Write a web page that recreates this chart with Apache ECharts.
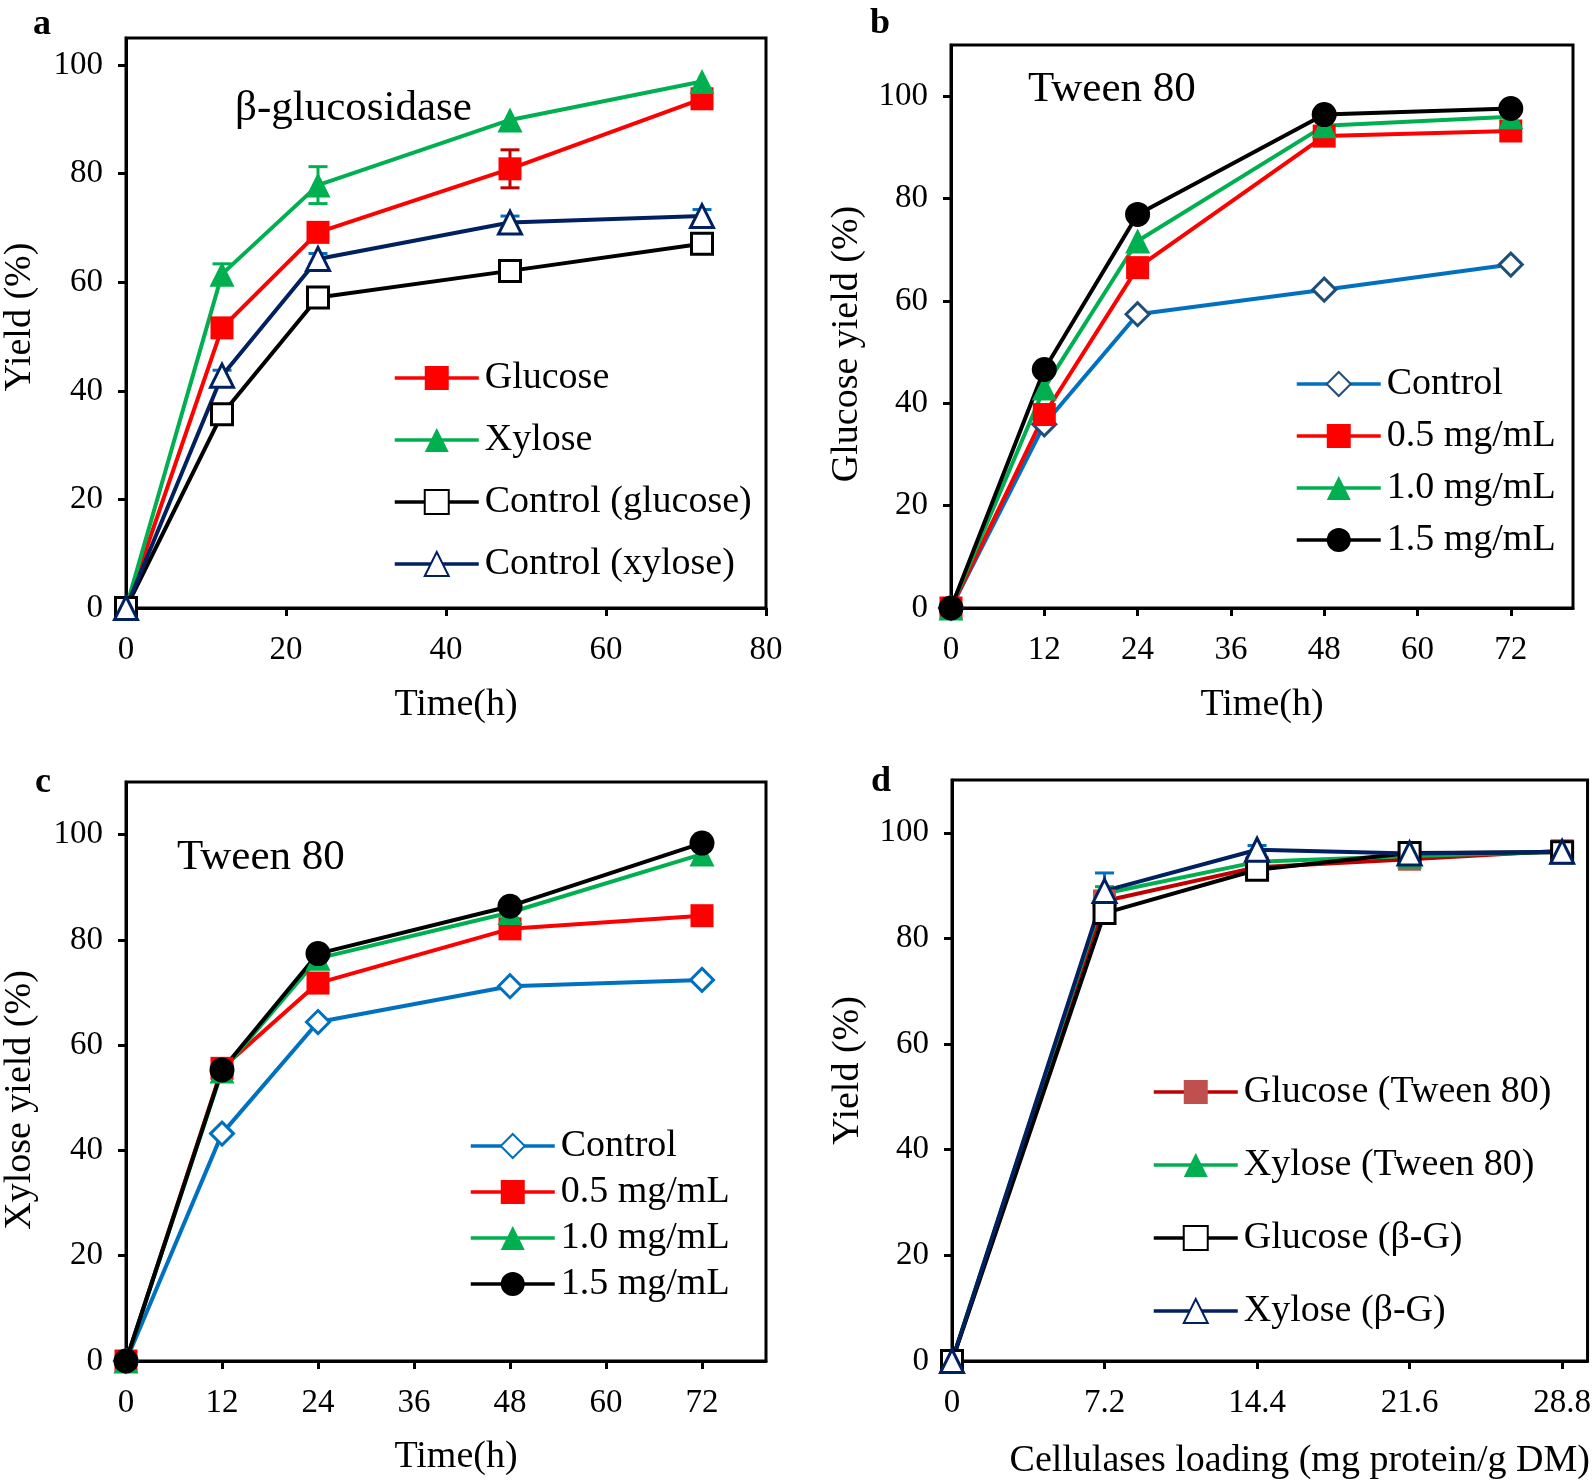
<!DOCTYPE html>
<html><head><meta charset="utf-8">
<script src="https://cdn.jsdelivr.net/npm/echarts@6/dist/echarts.min.js"></script>
<style>html,body{margin:0;padding:0;background:#fff}#chart{width:1594px;height:1482px}</style>
</head><body><div id="chart"></div>
<script>
// ---------- data ----------
const timeH = [0, 12, 24, 48, 72];
const loading = [0, 7.2, 14.4, 21.6, 28.8];

// panel a (β-glucosidase)
const aGlucose = [0, 51.6, 69.2, 80.9, 93.8];
const aXylose = [0, 61.5, 77.9, 89.9, 97.0];
const aCtrlGlucose = [0, 35.7, 57.2, 62.1, 67.1];
const aCtrlXylose = [0, 42.8, 64.3, 71.0, 72.2];
const aGlucoseErr = [0, 0, 0, 3.5, 0];
const aXyloseErr = [0, 1.9, 3.4, 0, 0];
const aCtrlXyloseErr = [0, 1.0, 1.0, 1.2, 1.2];

// panel b (glucose yield, Tween 80)
const bControl = [0, 35.9, 57.4, 62.2, 67.1];
const bT05 = [0, 37.8, 66.5, 92.2, 93.2];
const bT10 = [0, 43.0, 71.7, 94.2, 96.0];
const bT15 = [0, 46.6, 76.9, 96.4, 97.6];

// panel c (xylose yield, Tween 80)
const cControl = [0, 43.2, 64.4, 71.2, 72.4];
const cT05 = [0, 55.6, 71.8, 82.1, 84.6];
const cT10 = [0, 55.1, 76.5, 85.2, 96.3];
const cT15 = [0, 55.3, 77.4, 86.4, 98.4];

// panel d (cellulases loading)
const dGlucoseTween = [0, 87.1, 93.5, 95.0, 96.6];
const dXyloseTween = [0, 88.5, 94.5, 95.6, 96.4];
const dGlucoseBG = [0, 84.8, 93.0, 96.2, 96.3];
const dXyloseBG = [0, 89.0, 96.8, 96.1, 96.4];
const dXyloseTweenErr = [0, 1.3, 0, 0, 0];
const dXyloseBGErr = [0, 3.4, 0.8, 0, 0];

const yTicks = [0, 20, 40, 60, 80, 100];
const xTicksA = [0, 20, 40, 60, 80];
const xTicksBC = [0, 12, 24, 36, 48, 60, 72];
const xTicksD = [0, 7.2, 14.4, 21.6, 28.8];

const legendA = ['Glucose', 'Xylose', 'Control (glucose)', 'Control (xylose)'];
const legendBC = ['Control', '0.5 mg/mL', '1.0 mg/mL', '1.5 mg/mL'];
const legendD = ['Glucose (Tween 80)', 'Xylose (Tween 80)', 'Glucose (β-G)', 'Xylose (β-G)'];

// ---------- styling / builders ----------
const FF = '"Liberation Serif", "Times New Roman", serif';
const RED = '#FF0000', GREEN = '#00B050', BLACK = '#000000', NAVY = '#002060', BLUE = '#0070C0';

const grids = [
  {left: 126, top: 38, width: 640, height: 570},
  {left: 951, top: 45, width: 622, height: 563},
  {left: 126, top: 782, width: 640, height: 579},
  {left: 952, top: 780, width: 638, height: 581}
].map(g => Object.assign(g, {show: true, borderColor: '#000', borderWidth: 3, containLabel: false}));

function xAx(gi, max, ticks, name, gap, pad, interval) {
  const o = {
    type: 'value', gridIndex: gi, min: 0, max: max,
    name: name, nameLocation: 'middle', nameGap: gap, nameMoveOverlap: false,
    nameTextStyle: {fontSize: 38, fontFamily: FF, color: '#000', verticalAlign: 'middle', padding: pad},
    axisLine: {show: true, onZero: false, lineStyle: {color: '#000', width: 3}},
    axisTick: {show: true, inside: false, length: 8, lineStyle: {color: '#000', width: 3}, customValues: ticks},
    axisLabel: {fontSize: 33, fontFamily: FF, color: '#000', margin: 26, customValues: ticks, hideOverlap: false},
    splitLine: {show: false}
  };
  if (interval) o.interval = interval;
  return o;
}
function yAx(gi, max, name, gap, pad) {
  return {
    type: 'value', gridIndex: gi, min: 0, max: max, interval: 20,
    name: name, nameLocation: 'middle', nameGap: gap, nameRotate: 90, nameMoveOverlap: false,
    nameTextStyle: {fontSize: 38, fontFamily: FF, color: '#000', verticalAlign: 'middle', padding: pad},
    axisLine: {show: true, onZero: false, lineStyle: {color: '#000', width: 3}},
    axisTick: {show: true, inside: false, length: 8, lineStyle: {color: '#000', width: 3}, customValues: yTicks},
    axisLabel: {fontSize: 33, fontFamily: FF, color: '#000', margin: 23, customValues: yTicks},
    splitLine: {show: false}
  };
}

function line(gi, key, xs, ys, lineColor, symbol, size, fill, border, bw) {
  return {
    type: 'line', name: key, xAxisIndex: gi, yAxisIndex: gi,
    data: xs.map((x, i) => [x, ys[i]]),
    symbol: symbol, symbolSize: size, showSymbol: true, clip: false,
    lineStyle: {color: lineColor, width: 4},
    itemStyle: {color: fill, borderColor: border || fill, borderWidth: bw || 0, opacity: 1},
    emphasis: {disabled: true}, animation: false
  };
}
function errBars(gi, xs, ys, errs, color, capW) {
  return {
    type: 'custom', xAxisIndex: gi, yAxisIndex: gi, silent: true, animation: false, clip: false,
    data: xs.map((x, i) => [x, ys[i], errs[i]]).filter(d => d[2] > 0),
    renderItem: function (params, api) {
      const x = api.value(0), y = api.value(1), e = api.value(2);
      const t = api.coord([x, y + e]), b = api.coord([x, y - e]);
      const hw = capW / 2, st = {stroke: color, lineWidth: 3};
      return {type: 'group', children: [
        {type: 'line', shape: {x1: t[0], y1: t[1], x2: b[0], y2: b[1]}, style: st},
        {type: 'line', shape: {x1: t[0] - hw, y1: t[1], x2: t[0] + hw, y2: t[1]}, style: st},
        {type: 'line', shape: {x1: b[0] - hw, y1: b[1], x2: b[0] + hw, y2: b[1]}, style: st}
      ]};
    }
  };
}
function legend(prefix, names, left, top, gap) {
  return {
    orient: 'vertical', left: left, top: top, itemWidth: 84, itemHeight: 30, itemGap: gap,
    selectedMode: false, padding: 0,
    data: names.map(n => prefix + '|' + n),
    formatter: n => n.split('|')[1],
    lineStyle: {width: 3.5},
    textStyle: {fontSize: 38, fontFamily: FF, color: '#000', padding: [0, 0, 0, 1]}
  };
}

const series = [
  // panel a
  errBars(0, timeH, aGlucose, aGlucoseErr, '#C00000', 19),
  errBars(0, timeH, aXylose, aXyloseErr, GREEN, 19),
  errBars(0, timeH, aCtrlXylose, aCtrlXyloseErr, BLUE, 19),
  line(0, 'a|Glucose', timeH, aGlucose, RED, 'rect', 23, RED),
  line(0, 'a|Xylose', timeH, aXylose, GREEN, 'triangle', 25, GREEN),
  line(0, 'a|Control (glucose)', timeH, aCtrlGlucose, BLACK, 'rect', 21, '#FFFFFF', BLACK, 3),
  line(0, 'a|Control (xylose)', timeH, aCtrlXylose, NAVY, 'triangle', 23, '#FFFFFF', NAVY, 3),
  // panel b
  line(1, 'b|Control', timeH, bControl, BLUE, 'diamond', 23, '#FFFFFF', '#1F4E79', 3),
  line(1, 'b|0.5 mg/mL', timeH, bT05, RED, 'rect', 23, RED),
  line(1, 'b|1.0 mg/mL', timeH, bT10, GREEN, 'triangle', 25, GREEN),
  line(1, 'b|1.5 mg/mL', timeH, bT15, BLACK, 'circle', 25, BLACK),
  // panel c
  line(2, 'c|Control', timeH, cControl, BLUE, 'diamond', 23, '#FFFFFF', BLUE, 3),
  line(2, 'c|0.5 mg/mL', timeH, cT05, RED, 'rect', 23, RED),
  line(2, 'c|1.0 mg/mL', timeH, cT10, GREEN, 'triangle', 25, GREEN),
  line(2, 'c|1.5 mg/mL', timeH, cT15, BLACK, 'circle', 25, BLACK),
  // panel d
  errBars(3, loading, dXyloseTween, dXyloseTweenErr, GREEN, 19),
  errBars(3, loading, dXyloseBG, dXyloseBGErr, BLUE, 19),
  line(3, 'd|Glucose (Tween 80)', loading, dGlucoseTween, '#C00000', 'rect', 23, '#C0504D'),
  line(3, 'd|Xylose (Tween 80)', loading, dXyloseTween, GREEN, 'triangle', 25, GREEN),
  line(3, 'd|Glucose (β-G)', loading, dGlucoseBG, BLACK, 'rect', 21, '#FFFFFF', BLACK, 3),
  line(3, 'd|Xylose (β-G)', loading, dXyloseBG, NAVY, 'triangle', 23, '#FFFFFF', NAVY, 3)
];

function txt(text, x, y, size, bold, align) {
  return {type: 'text', x: x, y: y, z: 100,
    style: {text: text, font: (bold ? 'bold ' : '') + size + 'px ' + FF, fill: '#000',
      align: align || 'center', verticalAlign: 'middle'}};
}

const option = {
  backgroundColor: '#ffffff',
  animation: false,
  textStyle: {fontFamily: FF},
  grid: grids,
  xAxis: [
    xAx(0, 80, xTicksA, 'Time(h)', 97, [0, 0, 0, 20], 20),
    xAx(1, 80, xTicksBC, 'Time(h)', 97, 0, 12),
    xAx(2, 80, xTicksBC, 'Time(h)', 96, [0, 0, 0, 20], 12),
    xAx(3, 30, xTicksD, 'Cellulases loading (mg protein/g DM)', 100, [0, 0, 0, 60], null)
  ],
  yAxis: [
    yAx(0, 105, 'Yield (%)', 106, [0, 0, 0, 12]),
    yAx(1, 110, 'Glucose yield (%)', 104, [0, 35, 0, 0]),
    yAx(2, 110, 'Xylose yield (%)', 106, [0, 57, 0, 0]),
    yAx(3, 110, 'Yield (%)', 104, 0)
  ],
  legend: [
    legend('a', legendA, 393, 359, 24),
    legend('b', legendBC, 1295, 365, 14),
    legend('c', legendBC, 469, 1127, 8),
    legend('d', legendD, 1152, 1073, 35)
  ],
  series: series,
  graphic: [
    txt('a', 42, 25, 36, true),
    txt('b', 880, 24, 36, true),
    txt('c', 43, 783, 36, true),
    txt('d', 881, 782, 36, true),
    txt('β-glucosidase', 235, 109, 43, false, 'left'),
    txt('Tween 80', 1028, 90, 43, false, 'left'),
    txt('Tween 80', 177, 858, 43, false, 'left')
  ]
};

const chart = echarts.init(document.getElementById('chart'), null, {renderer: 'canvas'});
chart.setOption(option);
</script>
</body></html>
